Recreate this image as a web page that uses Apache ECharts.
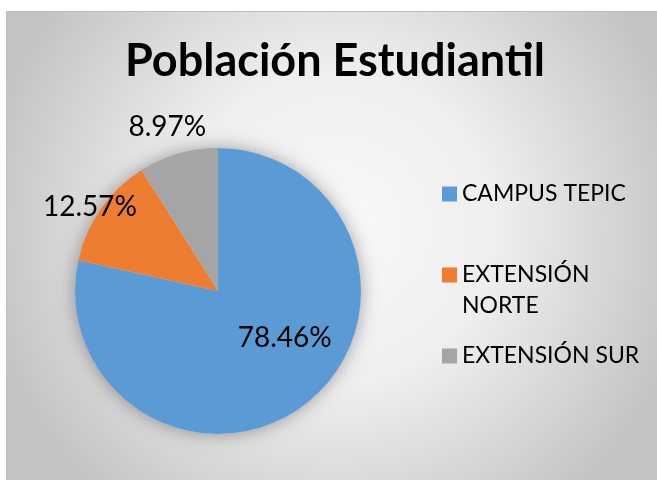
<!DOCTYPE html>
<html>
<head>
<meta charset="utf-8">
<script src="https://cdn.jsdelivr.net/npm/echarts@6/dist/echarts.min.js"></script>
<style>
html,body{margin:0;padding:0;background:#fff;}
#c{width:657px;height:480px;}
</style>
</head>
<body>
<div id="c"></div>
<script>
const titleText = 'Población Estudiantil';
const categories = ['CAMPUS TEPIC', 'EXTENSIÓN NORTE', 'EXTENSIÓN SUR'];
const legendLabels = ['CAMPUS TEPIC', '\nEXTENSIÓN\nNORTE', 'EXTENSIÓN SUR'];
const values = [78.46, 12.57, 8.97];
const colors = ['#5b9bd5', '#ed7d31', '#a5a5a5'];
const labelShift = [[20, -11], [-67, -41], [-30, -92]];

const chart = echarts.init(document.getElementById('c'));
const FONT = 'Lato';
const LH = 31;

chart.setOption({
  animation: false,
  graphic: [{
    type: 'rect', z: -10, silent: true,
    shape: { x: 6.5, y: 11.5, width: 660, height: 480 },
    style: {
      fill: new echarts.graphic.RadialGradient(0.5, 0.45, 0.75, [
        { offset: 0, color: '#f9f9f9' },
        { offset: 0.45, color: '#eeeeee' },
        { offset: 1, color: '#c3c3c3' }
      ]),
      stroke: '#bfbfbf', lineWidth: 1
    }
  }],
  title: {
    text: titleText,
    left: 330, top: 34, textAlign: 'center',
    textStyle: { fontFamily: FONT, fontWeight: 'bold', fontSize: 45, color: '#000' }
  },
  legend: {
    orient: 'vertical',
    left: 437, top: 173.5,
    itemWidth: 15, itemHeight: 15, itemGap: 19,
    icon: 'rect',
    data: categories,
    formatter: name => legendLabels[categories.indexOf(name)],
    textStyle: { fontFamily: FONT, fontSize: 23, color: '#000', lineHeight: LH }
  },
  series: [{
    type: 'pie', silent: true, z: 1,
    center: [218, 291], radius: 143,
    label: { show: false }, labelLine: { show: false },
    itemStyle: { color: '#d9d9d9', shadowBlur: 18, shadowColor: 'rgba(0,0,0,0.35)' },
    data: [{ value: 1, name: '_bg' }],
    legendHoverLink: false
  }, {
    type: 'pie', z: 2,
    center: [218, 291], radius: 143,
    startAngle: 90, clockwise: true,
    data: categories.map((c, i) => ({ name: c, value: values[i], itemStyle: { color: colors[i] } })),
    label: {
      show: true, position: 'inside',
      formatter: p => values[p.dataIndex].toFixed(2) + '%',
      fontFamily: FONT, fontSize: 28, color: '#000'
    },
    labelLine: { show: false },
    labelLayout: p => ({ dx: labelShift[p.dataIndex][0], dy: labelShift[p.dataIndex][1] }),
    itemStyle: { borderWidth: 0 }
  }]
});
</script>
</body>
</html>
